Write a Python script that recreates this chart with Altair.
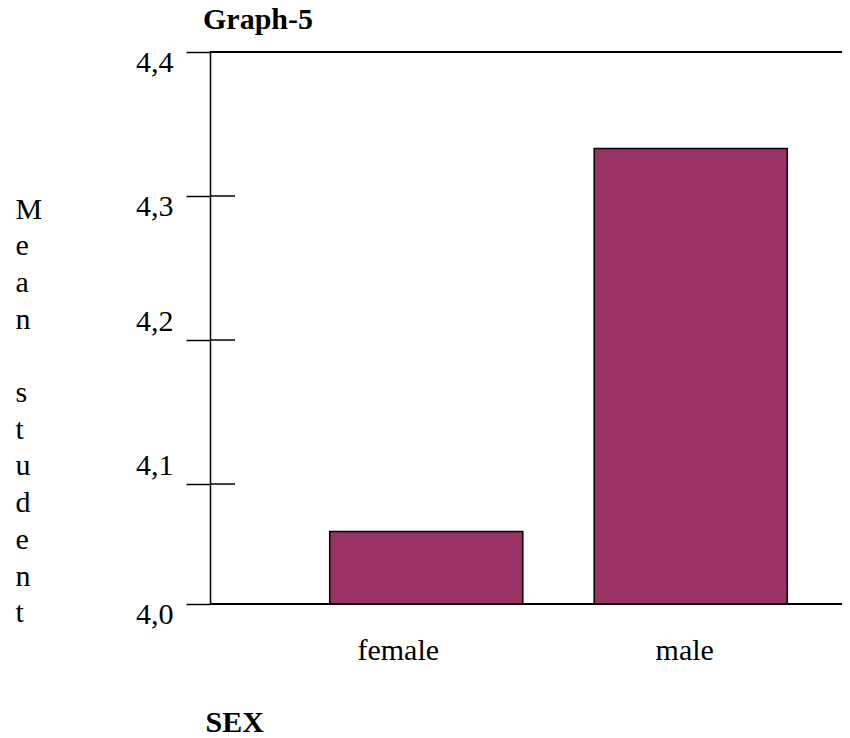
import altair as alt
import pandas as pd

# ---- data ----
sex = ["female", "male"]
mean_student = [4.067, 4.333]
y_min = 4.0167          # value at the drawn baseline (labelled "4,0")
y_max = 4.4
inner_ticks = [4.1, 4.2, 4.3]
frame_lines = [y_min, y_max]
axis_values = [y_min, 4.1, 4.2, 4.3, y_max]
y_title_lines = ["M", "e", "a", "n", "\u200b", "s", "t", "u", "d", "e", "n", "t"]

df = pd.DataFrame({"SEX": sex, "mean": mean_student})
ticks_df = pd.DataFrame({"v": inner_ticks})
frame_df = pd.DataFrame({"v": frame_lines})

FONT = "Liberation Serif"
W, H = 632, 552

yscale = alt.Scale(domain=[y_min, y_max], zero=False, nice=False)

y_axis = alt.Axis(
    values=axis_values,
    labelExpr="replace(format(datum.value, '.1f'), '.', ',')",
    labelOverlap=False,
    domain=True,
    domainColor="black",
    domainWidth=1.5,
    ticks=True,
    tickSize=24,
    tickWidth=1.5,
    tickColor="black",
    labelPadding=13,
    labelFont=FONT,
    labelFontSize=30,
    labelColor="black",
    labelBaseline="alphabetic",
    labelOffset={"condition": {"test": "datum.value > 4.05 && datum.value < 4.25", "value": -10}, "value": 19},
    title=y_title_lines,
    titleAngle=0,
    titleX=-195,
    titleY=166,
    titleAlign="left",
    titleBaseline="alphabetic",
    titleLineHeight=36.7,
    titleFont=FONT,
    titleFontSize=30,
    titleFontWeight="normal",
    titleColor="black",
)

bars = alt.Chart(df).mark_bar(
    color="#993366", stroke="black", strokeWidth=1.5, clip=True
).encode(
    x=alt.X(
        "SEX:N",
        sort=sex,
        scale=alt.Scale(range=[84, 613], paddingInner=0.27, paddingOuter=0.135),
        axis=alt.Axis(
            title="SEX",
            domain=False,
            ticks=False,
            tickSize=0,
            labelAngle=0,
            labelFont=FONT,
            labelFontSize=30,
            labelColor="black",
            labelBaseline="alphabetic",
            labelPadding=55,
            labelOffset={"condition": {"test": "datum.value == 'female'", "value": -28}, "value": -6},
            titleFont=FONT,
            titleFontSize=30,
            titleFontWeight="bold",
            titleColor="black",
            titleX=-5,
            titleY=127,
            titleAlign="left",
            titleBaseline="alphabetic",
        ),
    ),
    y=alt.Y("mean:Q", scale=yscale, axis=y_axis),
)

stubs = alt.Chart(ticks_df).mark_rule(color="black", strokeWidth=1.5).encode(
    y=alt.Y("v:Q", scale=yscale),
    x=alt.value(0),
    x2=alt.value(25),
)

frame = alt.Chart(frame_df).mark_rule(color="black", strokeWidth=2).encode(
    y=alt.Y("v:Q", scale=yscale),
    x=alt.value(0),
    x2=alt.value(W),
)

chart = alt.layer(bars, stubs, frame).properties(
    width=W,
    height=H,
    title=alt.TitleParams(
        "Graph-5",
        anchor="start",
        frame="group",
        dx=-7,
        dy=31,
        offset=19,
        baseline="alphabetic",
        font=FONT,
        fontSize=30,
        fontWeight="bold",
        color="black",
    ),
    autosize=alt.AutoSizeParams(type="none"),
    padding={"left": 202, "top": 44, "right": 0, "bottom": 132},
).configure_view(stroke=None).configure_axis(grid=False)

chart.save("out.html", embed_options={"renderer": "svg", "actions": False})
